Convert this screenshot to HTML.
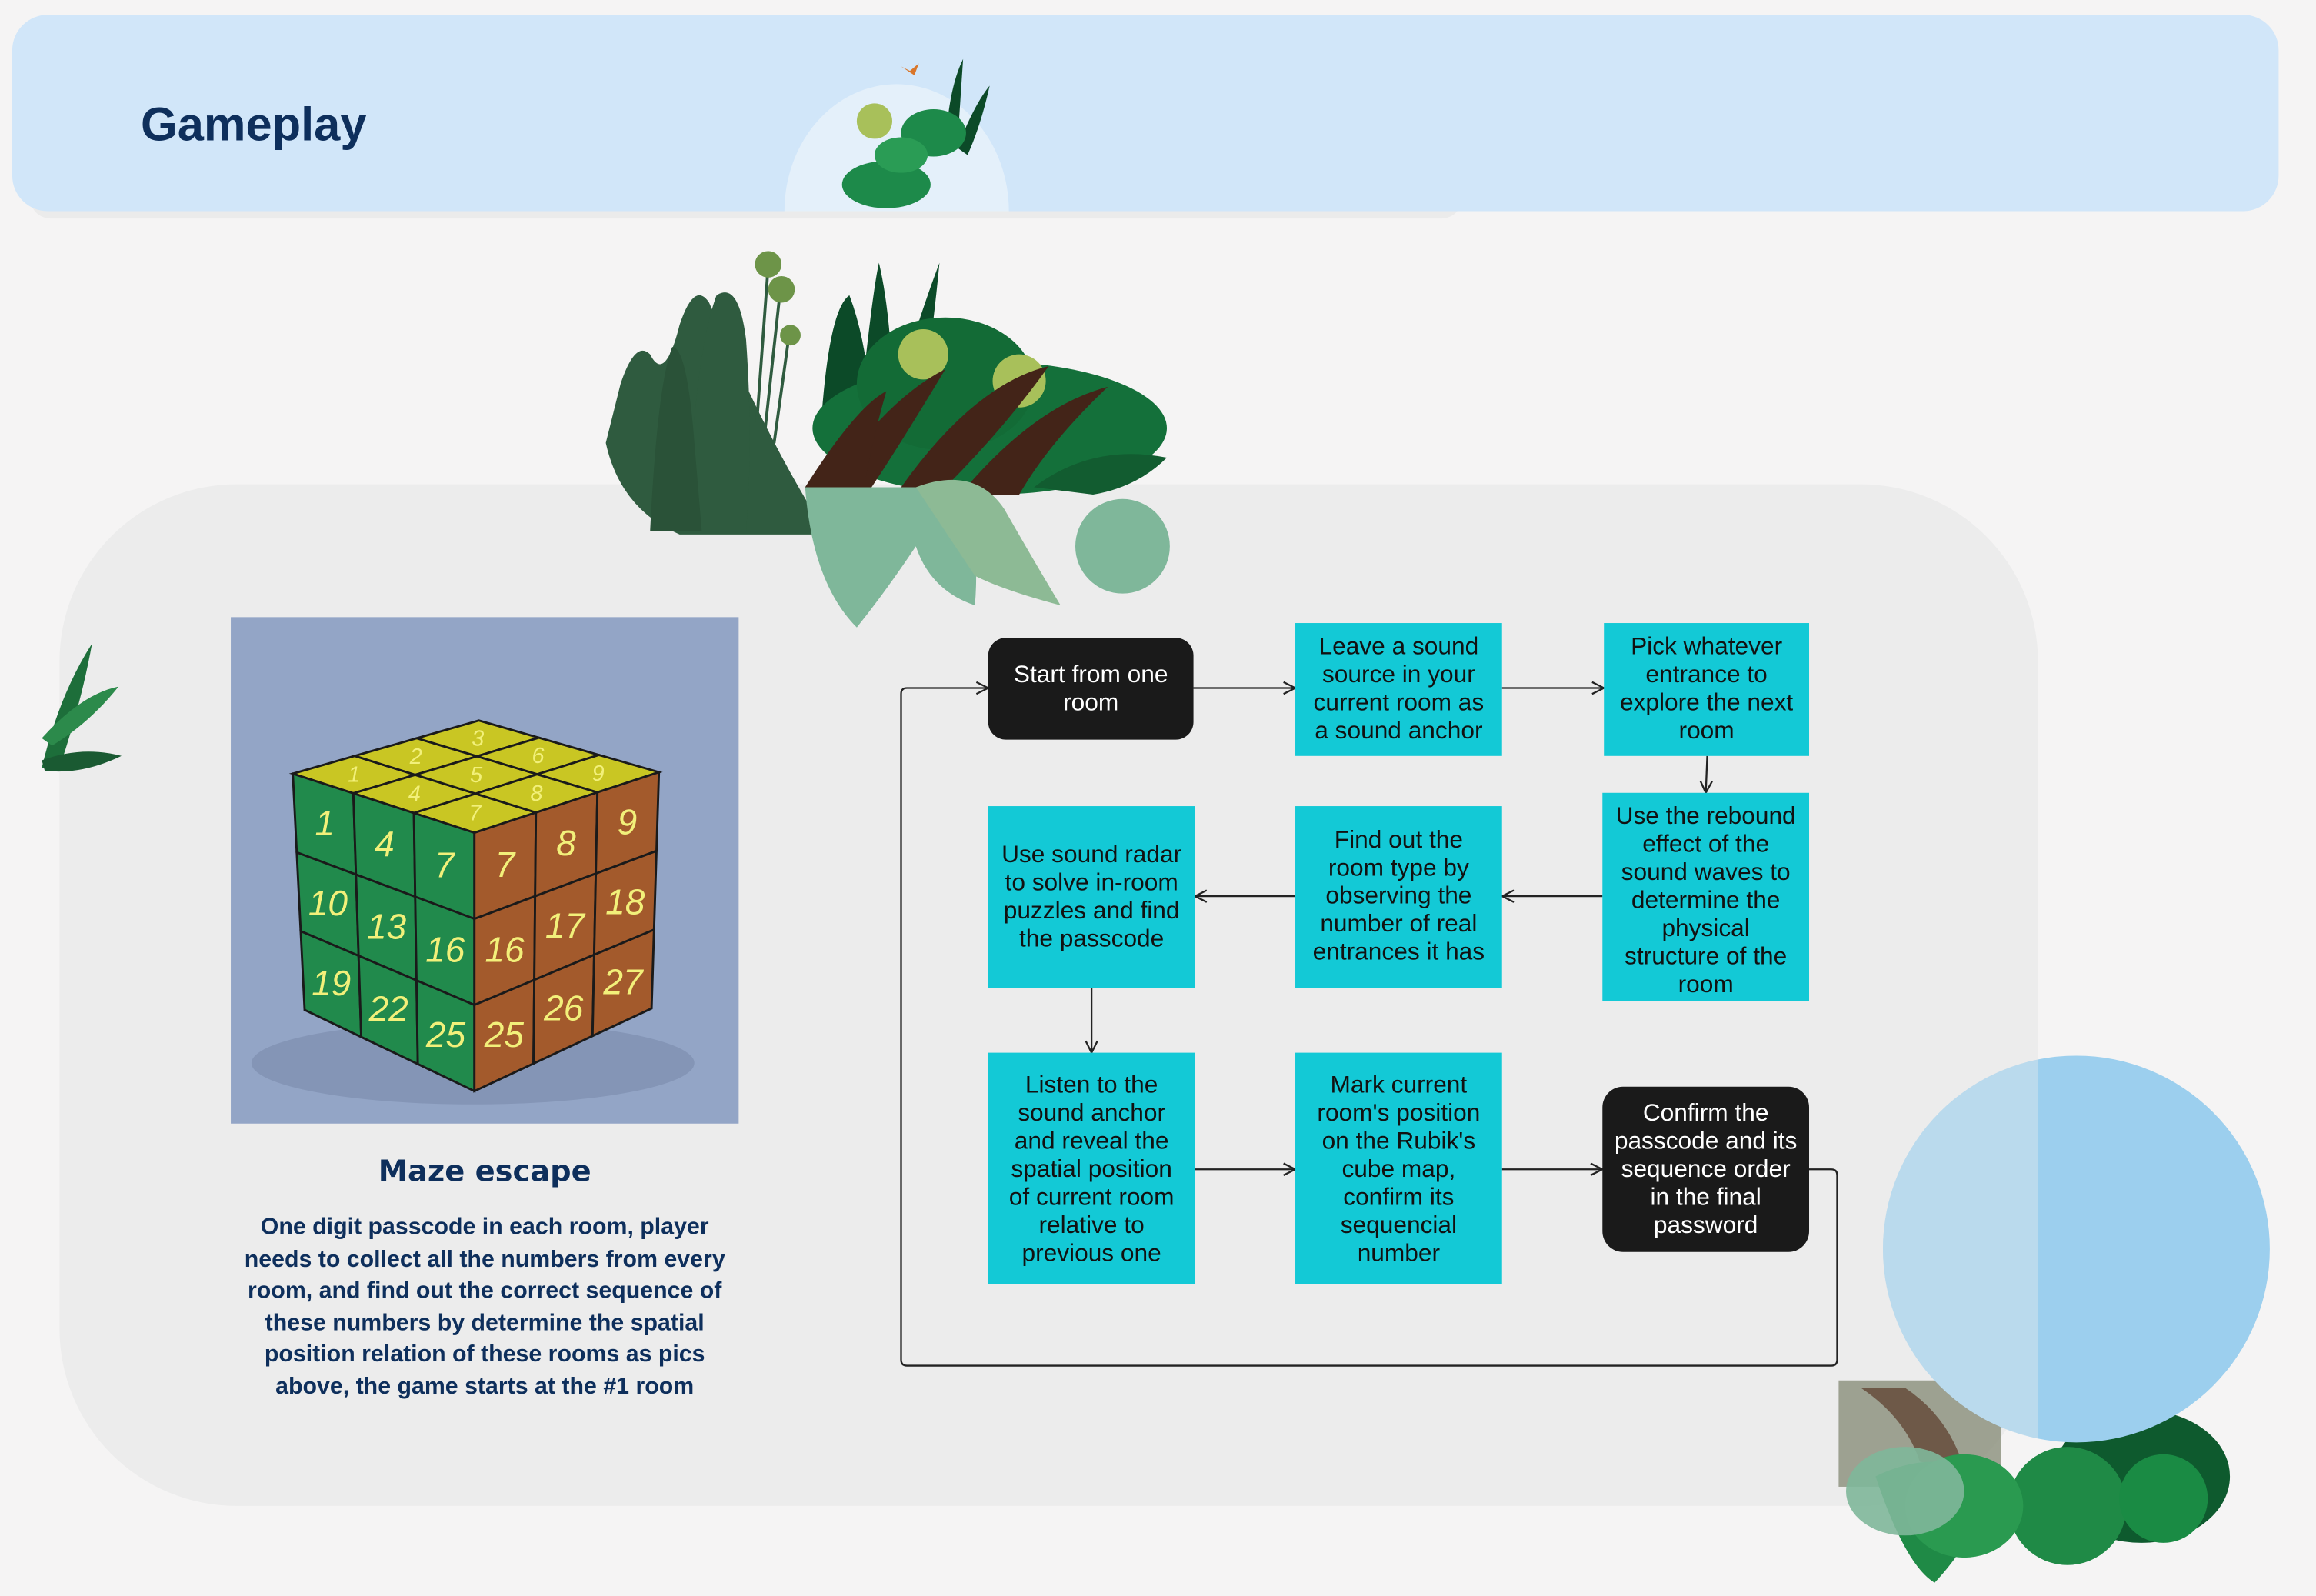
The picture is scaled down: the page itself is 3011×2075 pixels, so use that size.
<!DOCTYPE html>
<html><head><meta charset="utf-8">
<style>
html,body{margin:0;padding:0;background:#f5f4f4;}
svg{display:block;}
text{font-family:"Liberation Sans",sans-serif;}
.ft{font-size:16.5px;fill:#111;text-anchor:middle;}
.fw{font-size:16.5px;fill:#fff;text-anchor:middle;}
</style></head>
<body>
<svg id="s" width="3011" height="2075" viewBox="0 0 1568 1081" xmlns="http://www.w3.org/2000/svg">
<rect x="0" y="0" width="1568" height="1081" fill="#f5f4f4"/>
<!-- header -->
<rect x="20" y="120" width="970" height="28" rx="14" fill="#ebebeb"/>
<rect x="8" y="10" width="1535" height="133" rx="24" fill="#d1e6f9"/>
<path d="M531,143 A76,86 0 0 1 683,143 Z" fill="#e4f0fa"/>
<text x="95" y="95" font-size="32" font-weight="bold" fill="#0e2f5c">Gameplay</text>
<g>
 <path d="M640,100 Q642,60 652,40 Q650,70 648,100Z" fill="#0c4a28"/>
 <path d="M648,100 Q660,70 670,58 Q664,85 655,105Z" fill="#0c4a28"/>
 <ellipse cx="632" cy="90" rx="22" ry="16" fill="#1d8a4a"/>
 <ellipse cx="600" cy="125" rx="30" ry="16" fill="#1d8a4a"/>
 <ellipse cx="610" cy="105" rx="18" ry="12" fill="#2a9c55"/>
 <circle cx="592" cy="82" r="12" fill="#a8c05a"/>
 <path d="M610,45 l6,3 l6,-5 l-3,8 z" fill="#d9762a"/>
</g>
<!-- main panel -->
<path d="M160,328 H1260 A120,120 0 0 1 1380,448 V900 A120,120 0 0 1 1260,1020 H160 A120,120 0 0 1 40,900 V448 A120,120 0 0 1 160,328Z" fill="#ececec"/>
<!-- top plants -->
<g>
 <path d="M410,300 Q420,345 460,362 L560,362 Q520,300 480,205 Q470,190 460,220 Q450,260 440,240 Q430,230 420,260Z" fill="#2f5b3f"/>
 <path d="M465,360 Q470,240 485,200 Q500,190 505,230 Q510,300 505,360Z" fill="#2f5b3f"/>
 <path d="M440,360 Q445,260 455,235 Q465,235 470,300 L475,360Z" fill="#2a5238"/>
 <line x1="512" y1="290" x2="520" y2="180" stroke="#2f5b3f" stroke-width="2"/>
 <line x1="518" y1="290" x2="528" y2="198" stroke="#2f5b3f" stroke-width="2"/>
 <line x1="524" y1="300" x2="534" y2="228" stroke="#2f5b3f" stroke-width="2"/>
 <circle cx="520" cy="179" r="9" fill="#6d9448"/><circle cx="529" cy="196" r="9" fill="#6d9448"/><circle cx="535" cy="227" r="7" fill="#6d9448"/>
 <path d="M555,300 Q560,210 575,200 Q590,240 590,300Z" fill="#0c4a28"/>
 <path d="M580,300 Q590,200 595,178 Q605,220 605,300Z" fill="#0c4a28"/>
 <path d="M600,290 Q620,220 636,178 Q630,240 620,300Z" fill="#0c4a28"/>
 <ellipse cx="670" cy="290" rx="120" ry="45" fill="#14703a"/>
 <ellipse cx="640" cy="260" rx="60" ry="45" fill="#136b36"/>
 <circle cx="625" cy="240" r="17" fill="#a8c05a"/><circle cx="690" cy="258" r="18" fill="#a8c05a"/>
 <path d="M560,330 Q600,270 640,250 Q610,300 590,330Z" fill="#432418"/>
 <path d="M610,330 Q660,260 710,248 Q680,290 640,330Z" fill="#432418"/>
 <path d="M650,335 Q700,275 750,262 Q710,300 690,335Z" fill="#432418"/>
 <path d="M545,330 Q580,275 600,265 Q590,300 585,330Z" fill="#432418"/>
 <path d="M700,330 Q740,300 790,310 Q770,330 740,335Z" fill="#125c30"/>
 <path d="M545,330 Q550,395 580,425 Q600,400 620,370 Q630,400 660,410 Q665,350 640,330Z" fill="#7fb79a"/>
 <path d="M620,330 Q660,315 680,345 Q700,380 718,410 Q680,400 660,390Z" fill="#8dba95"/>
 <circle cx="760" cy="370" r="32" fill="#7fb79a"/>
</g>
<!-- left plant -->
<g>
 <path d="M28,520 Q40,470 62,436 Q55,475 40,520Z" fill="#1d6e3a"/>
 <path d="M28,500 Q55,470 80,465 Q60,490 35,505Z" fill="#2c8a4b"/>
 <path d="M28,515 Q55,505 82,512 Q55,525 30,522Z" fill="#1a5a32"/>
</g>
<!-- cube image -->
<g>
 <rect x="156" y="418" width="344" height="343" fill="#93a5c6"/>
 <ellipse cx="320" cy="720" rx="150" ry="28" fill="#8495b6"/>
 <g id="cube"></g>
</g>
<text x="328" y="800" font-size="20" font-weight="bold" fill="#0e2f5c" text-anchor="middle" style="font-family:'DejaVu Sans','Liberation Sans',sans-serif">Maze escape</text>
<g font-size="15.8" font-weight="bold" fill="#0e2f5c" text-anchor="middle" style="font-family:'DejaVu Sans','Liberation Sans',sans-serif">
 <text x="328" y="836">One digit passcode in each room, player</text>
 <text x="328" y="858">needs to collect all the numbers from every</text>
 <text x="328" y="879">room, and find out the correct sequence of</text>
 <text x="328" y="901">these numbers by determine the spatial</text>
 <text x="328" y="922">position relation of these rooms as pics</text>
 <text x="328" y="944">above, the game starts at the #1 room</text>
</g>
<!-- flowchart -->
<defs><marker id="ar" markerWidth="10" markerHeight="10" refX="9" refY="5" orient="auto" markerUnits="userSpaceOnUse"><path d="M1,1 L9,5 L1,9" fill="none" stroke="#222" stroke-width="1.2"/></marker>
<clipPath id="cc"><circle cx="1406" cy="846" r="131"/></clipPath></defs>
<g stroke="#222" stroke-width="1.2" fill="none">
 <line x1="808" y1="466" x2="877" y2="466" marker-end="url(#ar)"/>
 <line x1="1017" y1="466" x2="1086" y2="466" marker-end="url(#ar)"/>
 <line x1="1156" y1="512" x2="1155" y2="537" marker-end="url(#ar)"/>
 <line x1="1085" y1="607" x2="1017" y2="607" marker-end="url(#ar)"/>
 <line x1="877" y1="607" x2="809" y2="607" marker-end="url(#ar)"/>
 <line x1="739" y1="669" x2="739" y2="713" marker-end="url(#ar)"/>
 <line x1="809" y1="792" x2="877" y2="792" marker-end="url(#ar)"/>
 <line x1="1017" y1="792" x2="1085" y2="792" marker-end="url(#ar)"/>
 <path d="M1225,792 H1240 Q1244,792 1244,796 V921 Q1244,925 1240,925 H614 Q610,925 610,921 V470 Q610,466 614,466 H669" marker-end="url(#ar)"/>
</g>
<g><rect x="669" y="432" width="139" height="69" rx="12" fill="#1a1a1a"/><text class="fw" x="738.5" y="462">Start from one</text><text class="fw" x="738.5" y="481">room</text></g>
<g><rect x="877" y="422" width="140" height="90" fill="#13c9d6"/><text class="ft" x="947" y="443">Leave a sound</text><text class="ft" x="947" y="462">source in your</text><text class="ft" x="947" y="481">current room as</text><text class="ft" x="947" y="500">a sound anchor</text></g>
<g><rect x="1086" y="422" width="139" height="90" fill="#13c9d6"/><text class="ft" x="1155.5" y="443">Pick whatever</text><text class="ft" x="1155.5" y="462">entrance to</text><text class="ft" x="1155.5" y="481">explore the next</text><text class="ft" x="1155.5" y="500">room</text></g>
<g><rect x="1085" y="537" width="140" height="141" fill="#13c9d6"/><text class="ft" x="1155" y="558">Use the rebound</text><text class="ft" x="1155" y="577">effect of the</text><text class="ft" x="1155" y="596">sound waves to</text><text class="ft" x="1155" y="615">determine the</text><text class="ft" x="1155" y="634">physical</text><text class="ft" x="1155" y="653">structure of the</text><text class="ft" x="1155" y="672">room</text></g>
<g><rect x="877" y="546" width="140" height="123" fill="#13c9d6"/><text class="ft" x="947" y="574">Find out the</text><text class="ft" x="947" y="593">room type by</text><text class="ft" x="947" y="612">observing the</text><text class="ft" x="947" y="631">number of real</text><text class="ft" x="947" y="650">entrances it has</text></g>
<g><rect x="669" y="546" width="140" height="123" fill="#13c9d6"/><text class="ft" x="739" y="584">Use sound radar</text><text class="ft" x="739" y="603">to solve in-room</text><text class="ft" x="739" y="622">puzzles and find</text><text class="ft" x="739" y="641">the passcode</text></g>
<g><rect x="669" y="713" width="140" height="157" fill="#13c9d6"/><text class="ft" x="739" y="740">Listen to the</text><text class="ft" x="739" y="759">sound anchor</text><text class="ft" x="739" y="778">and reveal the</text><text class="ft" x="739" y="797">spatial position</text><text class="ft" x="739" y="816">of current room</text><text class="ft" x="739" y="835">relative to</text><text class="ft" x="739" y="854">previous one</text></g>
<g><rect x="877" y="713" width="140" height="157" fill="#13c9d6"/><text class="ft" x="947" y="740">Mark current</text><text class="ft" x="947" y="759">room's position</text><text class="ft" x="947" y="778">on the Rubik's</text><text class="ft" x="947" y="797">cube map,</text><text class="ft" x="947" y="816">confirm its</text><text class="ft" x="947" y="835">sequencial</text><text class="ft" x="947" y="854">number</text></g>
<g><rect x="1085" y="736" width="140" height="112" rx="14" fill="#1a1a1a"/><text class="fw" x="1155" y="759">Confirm the</text><text class="fw" x="1155" y="778">passcode and its</text><text class="fw" x="1155" y="797">sequence order</text><text class="fw" x="1155" y="816">in the final</text><text class="fw" x="1155" y="835">password</text></g>
<!-- bottom right plant -->
<g>
 <rect x="1245" y="935" width="110" height="72" fill="#8a8f7a" opacity="0.8"/>
 <path d="M1260,940 Q1290,960 1300,990 L1330,995 Q1320,960 1290,940Z" fill="#5a3a2a" opacity="0.7"/>
 <ellipse cx="1450" cy="1000" rx="60" ry="45" fill="#0e5a2e"/>
 <ellipse cx="1400" cy="1020" rx="40" ry="40" fill="#1f8a46"/>
 <path d="M1270,1000 Q1290,1060 1310,1072 Q1340,1040 1350,1000 Q1310,980 1270,1000Z" fill="#1f8a46"/>
 <circle cx="1465" cy="1015" r="30" fill="#1a8b44"/>
 <ellipse cx="1330" cy="1020" rx="40" ry="35" fill="#2a9a50"/>
 <ellipse cx="1290" cy="1010" rx="40" ry="30" fill="#7fb79a" opacity="0.9"/>
</g>
<g>
 <circle cx="1406" cy="846" r="131" fill="#9ccfee"/>
 <rect x="1270" y="700" width="110" height="300" fill="#dfe6ea" opacity="0.45" clip-path="url(#cc)"/>
</g>
<script>
(function(){
 var g=document.getElementById('cube');
 var NS='http://www.w3.org/2000/svg';
 function lerp(a,b,t){return [a[0]+(b[0]-a[0])*t,a[1]+(b[1]-a[1])*t];}
 function bil(P,u,v){return lerp(lerp(P[0],P[1],u),lerp(P[3],P[2],u),v);}
 var faces=[
  {P:[[198,524],[324,488],[446,523],[321,564]],c:'#c9c623',n:[[1,2,3],[4,5,6],[7,8,9]],name:'cube-top-face'},
  {P:[[198,524],[321,564],[321,739],[206,684]],c:'#218a4c',n:[[1,4,7],[10,13,16],[19,22,25]],name:'cube-left-face'},
  {P:[[321,564],[446,523],[441,683],[321,739]],c:'#a35a2c',n:[[7,8,9],[16,17,18],[25,26,27]],name:'cube-right-face'}
 ];
 faces.forEach(function(f){
  var fg=document.createElementNS(NS,'g');
  
  
  for(var r=0;r<3;r++)for(var c=0;c<3;c++){
   var pts=[bil(f.P,c/3,r/3),bil(f.P,(c+1)/3,r/3),bil(f.P,(c+1)/3,(r+1)/3),bil(f.P,c/3,(r+1)/3)];
   var p=document.createElementNS(NS,'polygon');
   p.setAttribute('points',pts.map(function(q){return q.join(',');}).join(' '));
   p.setAttribute('fill',f.c);p.setAttribute('stroke','#1a1a1a');p.setAttribute('stroke-width','1.5');
   fg.appendChild(p);
   var ctr=bil(f.P,(c+.5)/3,(r+.5)/3);
   var t=document.createElementNS(NS,'text');
   t.setAttribute('x',ctr[0]);t.setAttribute('y',ctr[1]+ (f.name==='cube-top-face'?5:8));
   t.setAttribute('text-anchor','middle');t.setAttribute('fill','#f2f07a');
   t.setAttribute('font-size',f.name==='cube-top-face'?'15':'24');
   t.setAttribute('font-style','italic');
   t.textContent=f.n[r][c];
   fg.appendChild(t);
  }
  g.appendChild(fg);
 });
})();
</script>
</svg>
</body></html>
